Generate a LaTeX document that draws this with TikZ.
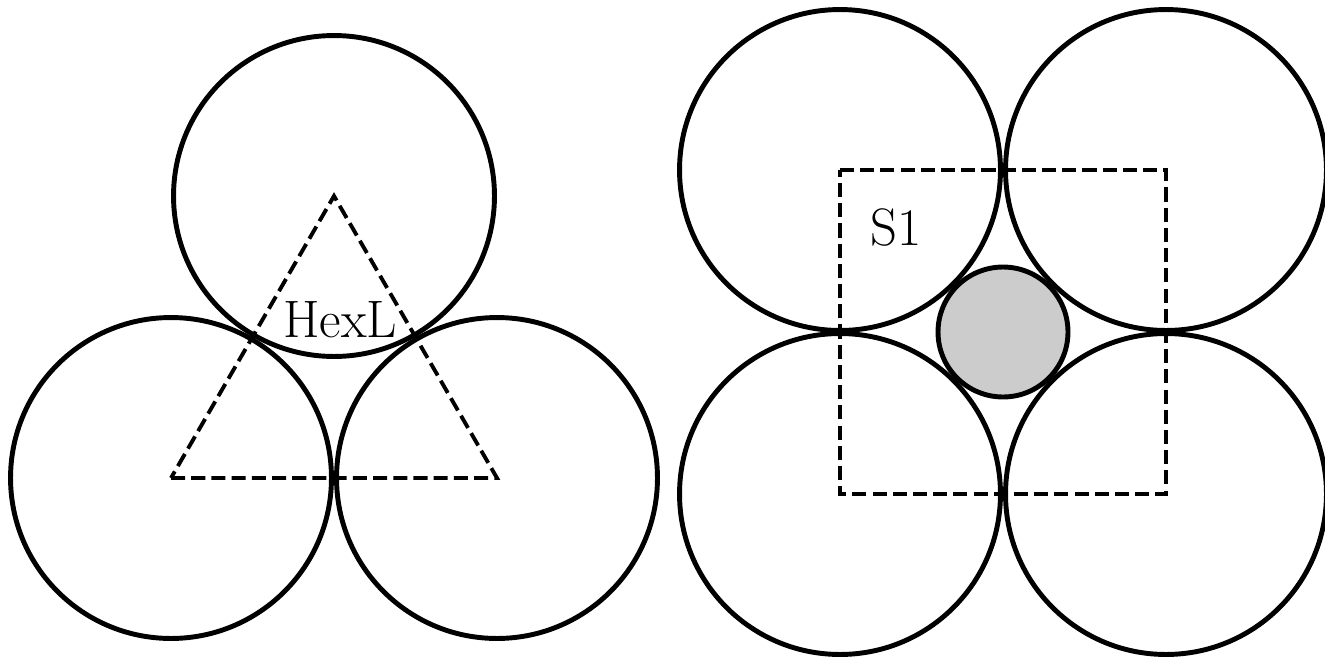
\documentclass[tikz,border=0pt]{standalone}
\usepackage{tikz}
\usetikzlibrary{positioning}

\begin{document}
\begin{tikzpicture}[x=0.02cm, y=-0.02cm,
    disc/.style={circle, draw, line width=2.8pt, inner sep=0pt, minimum size=6.42cm},
    hole/.style={circle, draw, line width=2.8pt, fill=black!20, inner sep=0pt, minimum size=2.6cm},
    cell/.style={line width=2.2pt, dash pattern=on 8pt off 3.5pt},
    tag/.style={font=\fontsize{30}{36}\selectfont, inner sep=0pt}]
  \useasboundingbox (0,0) rectangle (1325,656);

  % Hexagonal packing
  \node[disc] (h1) at (171,478) {};
  \node[disc] (h2) at (497,478) {};
  \node[disc] (h3) at (334,196) {};
  \draw[cell] (h1.center) -- (h2.center) -- (h3.center) -- cycle;
  \node[tag] (hexl) at (340,320) {HexL};

  % Square packing
  \node[disc] (s1) at (840,170) {};
  \node[disc] (s2) at (1166,170) {};
  \node[disc] (s3) at (840,494) {};
  \node[disc] (s4) at (1166,494) {};
  \draw[cell] (s1.center) -- (s2.center) -- (s4.center) -- (s3.center) -- cycle;
  \node[hole] (gap) at (1003,332) {};
  \node[tag] (sone) at (896,227) {S1};
\end{tikzpicture}
\end{document}
